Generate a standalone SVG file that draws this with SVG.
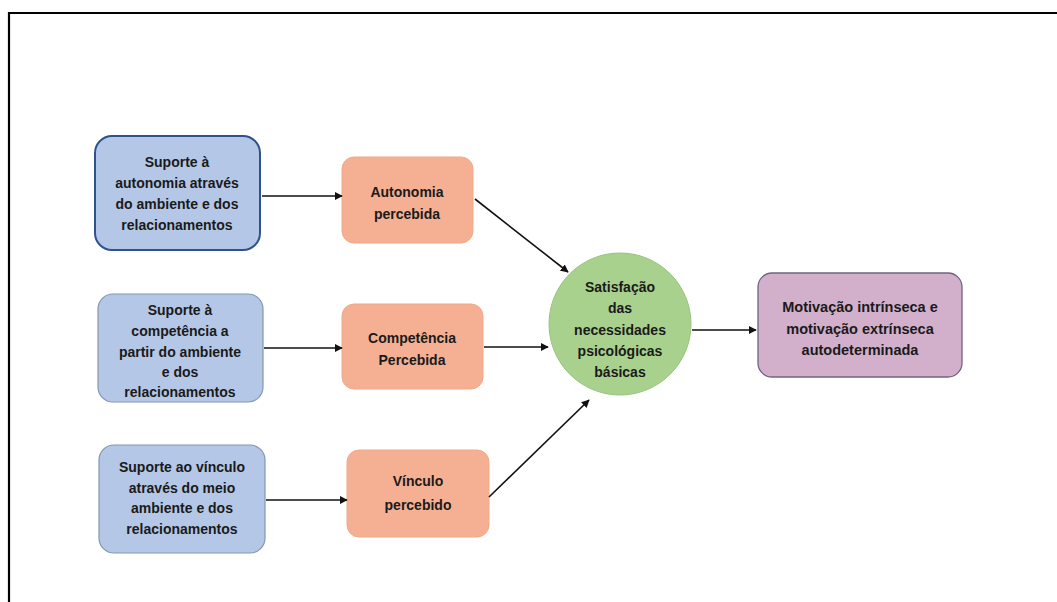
<svg xmlns="http://www.w3.org/2000/svg" width="1057" height="602" viewBox="0 0 1057 602">
<style>
text{font-family:"Liberation Sans",Arial,sans-serif;font-weight:bold;font-size:14px;fill:#1a1a1a;text-anchor:middle}
.blue{fill:#b4c7e7;stroke:#8497b0;stroke-width:1.2}
.blue1{fill:#b4c7e7;stroke:#2f528f;stroke-width:2}
.orange{fill:#f5b094;stroke:#f2a987;stroke-width:1}
.green{fill:#a9d18e;stroke:#97c47c;stroke-width:1}
.purple{fill:#d2b0cc;stroke:#6f6480;stroke-width:1.3}
.conn line{stroke:#111;stroke-width:1.6;marker-end:url(#arr)}
</style>
<defs>
<marker id="arr" viewBox="0 0 10 10" refX="9" refY="5" markerWidth="5" markerHeight="5" orient="auto" markerUnits="strokeWidth">
<path d="M0,0 L10,5 L0,10 z" fill="#111"/>
</marker>
</defs>
<rect width="1057" height="602" fill="#fff"/>
<g id="frame"><path d="M9,602 V13 H1057" fill="none" stroke="#000" stroke-width="2.2"/></g>

<g id="blue1"><rect class="blue1" x="95" y="136" width="165" height="114" rx="17"/>
<text x="177" y="167">Suporte à</text><text x="177" y="188">autonomia através</text><text x="177" y="209">do ambiente e dos</text><text x="177" y="230">relacionamentos</text></g>

<g id="blue2"><rect class="blue" x="98" y="294" width="165" height="108" rx="15"/>
<text x="180" y="315">Suporte à</text><text x="180" y="336">competência a</text><text x="180" y="357">partir do ambiente</text><text x="180" y="377">e dos</text><text x="180" y="397">relacionamentos</text></g>

<g id="blue3"><rect class="blue" x="99" y="445" width="166" height="108" rx="15"/>
<text x="182" y="472">Suporte ao vínculo</text><text x="182" y="493">através do meio</text><text x="182" y="513">ambiente e dos</text><text x="182" y="534">relacionamentos</text></g>

<g id="orange1"><rect class="orange" x="342" y="157" width="131" height="86" rx="12"/>
<text x="407" y="197">Autonomia</text><text x="407" y="219">percebida</text></g>

<g id="orange2"><rect class="orange" x="342" y="304" width="141" height="85" rx="12"/>
<text x="412" y="343">Competência</text><text x="412" y="365">Percebida</text></g>

<g id="orange3"><rect class="orange" x="347" y="450" width="142" height="87" rx="12"/>
<text x="418" y="486">Vínculo</text><text x="418" y="510">percebido</text></g>

<g id="green"><circle class="green" cx="620" cy="324" r="71"/>
<text x="620" y="292">Satisfação</text><text x="620" y="313">das</text><text x="620" y="335">necessidades</text><text x="620" y="356">psicológicas</text><text x="620" y="377">básicas</text></g>

<g id="purple"><rect class="purple" x="758" y="273" width="204" height="104" rx="14"/>
<text x="860" y="312" style="font-size:14.5px">Motivação intrínseca e</text><text x="860" y="334" style="font-size:14.5px">motivação extrínseca</text><text x="860" y="355" style="font-size:14.5px">autodeterminada</text></g>

<g class="conn" id="connectors">
<line x1="262" y1="196" x2="342" y2="196"/>
<line x1="264" y1="348" x2="342" y2="348"/>
<line x1="266" y1="500" x2="347" y2="500"/>
<line x1="475" y1="199" x2="568" y2="272"/>
<line x1="484" y1="347" x2="548" y2="347"/>
<line x1="489" y1="497" x2="589" y2="400"/>
<line x1="692" y1="330" x2="756" y2="330"/>
</g>
</svg>
